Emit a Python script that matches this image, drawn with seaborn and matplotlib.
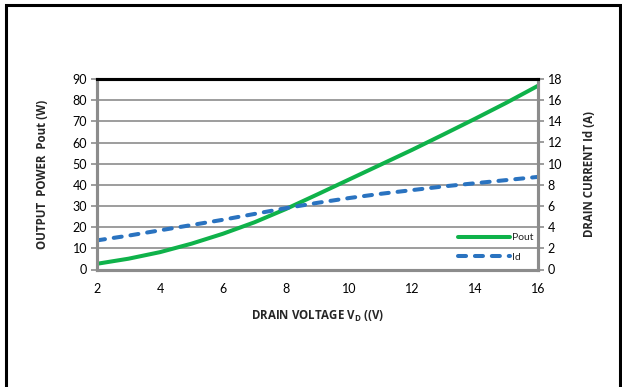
import matplotlib
matplotlib.use("Agg")
import matplotlib.pyplot as plt
import seaborn as sns
import pandas as pd

# Drain voltage sweep (V)
vd = [2, 3, 4, 5, 6, 7, 8, 9, 10, 11, 12, 13, 14, 15, 16]
# Output power (W)
pout = [2.7, 5.1, 8.2, 12.2, 16.9, 22.3, 28.6, 35.5, 42.5, 49.5, 56.5, 63.8, 71.2, 78.8, 86.8]
# Drain current (A)
idrain = [2.75, 3.2, 3.7, 4.2, 4.7, 5.25, 5.8, 6.3, 6.75, 7.15, 7.5, 7.85, 8.15, 8.45, 8.75]

df = pd.DataFrame({"vd": vd, "pout": pout, "id": idrain})

sns.set_theme(style="white")
plt.rcParams["font.family"] = ["Lato", "DejaVu Sans"]
plt.rcParams["mathtext.fontset"] = "custom"
plt.rcParams["mathtext.bf"] = "Open Sans:bold"
plt.rcParams["mathtext.rm"] = "Open Sans"

fig = plt.figure(figsize=(6.22, 3.87), dpi=100)
# outer chart frame
fig.patches.append(plt.Rectangle((6 / 622, -0.05), (620 - 6) / 622, 1.05 - 5 / 387,
                                 transform=fig.transFigure, fill=False,
                                 edgecolor="black", linewidth=2.2))

ax = fig.add_axes([97 / 622, 117.5 / 387, (538 - 97) / 622, (269.5 - 79) / 387])
ax2 = ax.twinx()

green = "#0fb24a"
blue = "#2a73c0"

sns.lineplot(data=df, x="vd", y="pout", ax=ax, color=green, linewidth=2.9,
             label="Pout", legend=False)
sns.lineplot(data=df, x="vd", y="id", ax=ax2, color=blue, linewidth=2.9,
             label="Id", legend=False)
ax2.lines[0].set_linestyle((0, (2.0, 2.2)))
ax2.lines[0].set_dash_capstyle("round")

ax.set_xlim(2, 16)
ax.set_ylim(0, 90)
ax2.set_ylim(0, 18)
ax.set_xticks(range(2, 17, 2))
ax.set_yticks(range(0, 91, 10))
ax2.set_yticks(range(0, 19, 2))

ax.grid(axis="y", color="#8c8c8c", linewidth=1.2)
ax.grid(axis="x", visible=False)
ax2.grid(False)

for a in (ax, ax2):
    for s in ("left", "right", "bottom"):
        a.spines[s].set_color("#8c8c8c")
        a.spines[s].set_linewidth(2.2)
    a.spines["top"].set_color("black")
    a.spines["top"].set_linewidth(2.2)
    a.tick_params(axis="both", labelsize=9, length=4, width=1.2,
                  color="#8c8c8c", pad=3, labelcolor="black")

ax.tick_params(axis="y", left=True, direction="out")
ax.tick_params(axis="x", bottom=False, pad=6)
ax2.tick_params(axis="y", right=True, direction="out")

lab = dict(fontsize=8.3, fontweight="bold", family=["Open Sans", "DejaVu Sans"])
ax.set_xlabel(r"DRAIN VOLTAGE V$_\mathbf{D}$ ((V)", labelpad=10, **lab)
ax.set_ylabel("OUTPUT  POWER  Pout (W)", labelpad=17, **lab)
ax2.set_ylabel("DRAIN CURRENT Id (A)", labelpad=15, **lab)

h1, l1 = ax.get_legend_handles_labels()
h2, l2 = ax2.get_legend_handles_labels()
leg = ax2.legend(h1 + h2, l1 + l2, loc="lower right", bbox_to_anchor=(1.01, -0.01),
                 frameon=False, fontsize=7.5, handlelength=5, handletextpad=0.1,
                 labelspacing=1.0)

fig.savefig("out.png", dpi=100)
